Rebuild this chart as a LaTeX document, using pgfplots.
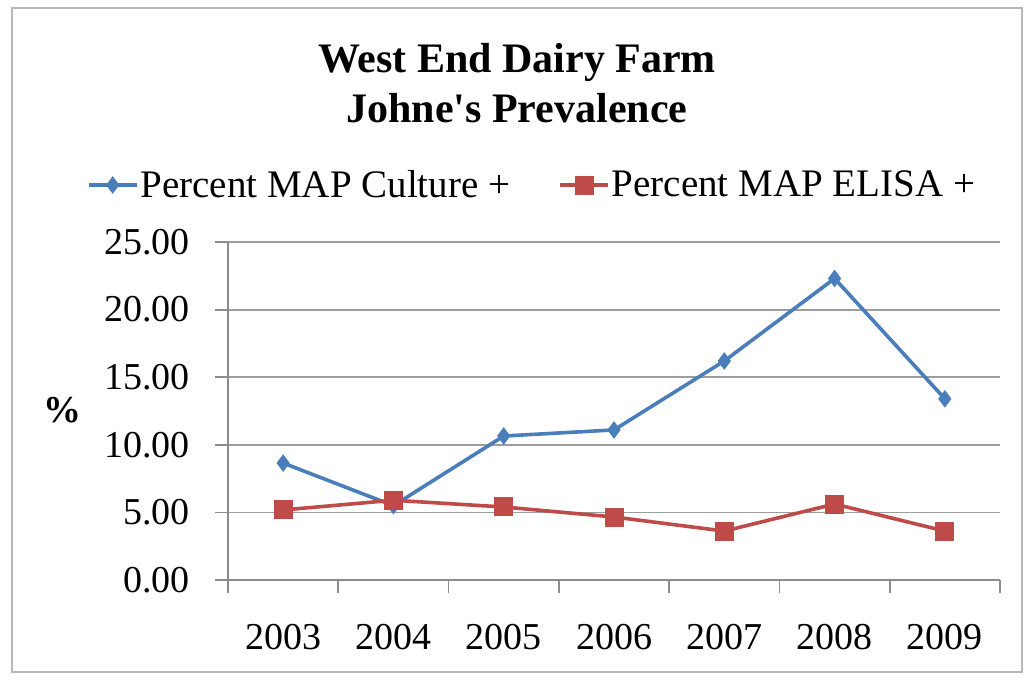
\documentclass[border=0pt]{standalone}
\usepackage{pgfplots}
\pgfplotsset{compat=1.18}
\usepackage{fontspec}
\setmainfont{Liberation Serif}
\definecolor{cblue}{HTML}{4A7EBB}
\definecolor{cred}{HTML}{BE4B48}
\definecolor{gline}{HTML}{8C8C8C}
\begin{document}
\begin{tikzpicture}
\path (0,0) rectangle (515.5pt,340.5pt);
\draw[gray!55, line width=1.2pt] (6pt,4.5pt) rectangle (511pt,336.5pt);
\node[align=center, font=\fontsize{21}{25}\selectfont\bfseries] at (258.5pt,299pt) {West End Dairy Farm\\Johne\textquotesingle s Prevalence};
\begin{axis}[
  at={(114pt,50.5pt)}, anchor=south west,
  scale only axis, width=386pt, height=169pt,
  xmin=-0.5, xmax=6.5, ymin=0, ymax=25,
  axis x line*=bottom, axis y line*=left,
  axis line style={-, draw=gline, line width=0.9pt},
  xtick={-0.5,0.5,...,6.5},
  x tick label as interval,
  xticklabels={2003,2004,2005,2006,2007,2008,2009},
  ytick={0,5,...,25},
  tick align=outside, major tick length=6.5pt,
  tick style={draw=gline, line width=0.9pt},
  ymajorgrids, grid style={draw=gline!85, line width=0.9pt},
  ticklabel style={font=\fontsize{19}{23}\selectfont},
  /pgf/number format/assume math mode=true,
  yticklabel={\pgfmathprintnumber[fixed,fixed zerofill,precision=2]{\tick}},
  yticklabel style={xshift=-9pt},
  xticklabel style={yshift=-12pt},
  ylabel={\textbf{\%}},
  ylabel style={rotate=-90, at={(axis description cs:-0.215,0.503)}, anchor=center, font=\fontsize{19}{23}\selectfont},
  legend columns=2,
  legend style={at={(axis description cs:0.5,1)}, anchor=center, xshift=-41pt, yshift=28.5pt,
    draw=none, fill=none, font=\fontsize{19.5}{23}\selectfont,
    /tikz/every even column/.append style={column sep=23pt},
    inner sep=0pt, nodes={inner sep=1pt}},
  legend image code/.code={\draw[#1] (0pt,0pt) -- (24pt,0pt); \draw[#1, mark repeat=2, mark phase=2] plot coordinates {(0pt,0pt) (12pt,0pt) (24pt,0pt)};},
  clip=false,
]
\addplot[cblue, line width=1.8pt, mark=diamond*, mark size=4pt, mark options={fill=cblue, draw=cblue, line width=0.5pt}]
  coordinates {(0,8.65) (1,5.5) (2,10.65) (3,11.1) (4,16.2) (5,22.3) (6,13.4)};
\addlegendentry{Percent MAP Culture +}
\addplot[cred, line width=1.8pt, mark=square*, mark size=4.5pt, mark options={fill=cred, draw=cred, line width=0.5pt}]
  coordinates {(0,5.18) (1,5.9) (2,5.4) (3,4.66) (4,3.62) (5,5.62) (6,3.62)};
\addlegendentry{Percent MAP ELISA +}
\end{axis}
\end{tikzpicture}
\end{document}
